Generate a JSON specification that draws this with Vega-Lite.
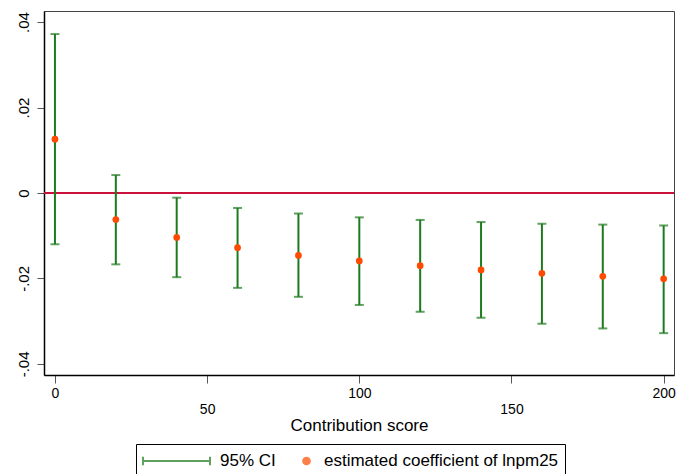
{
  "$schema": "https://vega.github.io/schema/vega-lite/v6.json",
  "width": 630,
  "height": 364,
  "autosize": "none",
  "padding": {"left": 44, "top": 11, "right": 12, "bottom": 99},
  "background": "white",
  "data": {"values": [
    {"x": 0, "b": 0.0126, "lo": -0.0120, "hi": 0.0372},
    {"x": 20, "b": -0.0062, "lo": -0.0167, "hi": 0.0042},
    {"x": 40, "b": -0.0104, "lo": -0.0197, "hi": -0.0011},
    {"x": 60, "b": -0.0128, "lo": -0.0222, "hi": -0.0035},
    {"x": 80, "b": -0.0146, "lo": -0.0243, "hi": -0.0048},
    {"x": 100, "b": -0.0159, "lo": -0.0262, "hi": -0.0057},
    {"x": 120, "b": -0.0170, "lo": -0.0278, "hi": -0.0063},
    {"x": 140, "b": -0.0180, "lo": -0.0292, "hi": -0.0068},
    {"x": 160, "b": -0.0188, "lo": -0.0306, "hi": -0.0072},
    {"x": 180, "b": -0.0195, "lo": -0.0317, "hi": -0.0074},
    {"x": 200, "b": -0.0201, "lo": -0.0328, "hi": -0.0076}
  ]},
  "layer": [
    {
      "mark": {"type": "rule", "color": "#c8123c", "strokeWidth": 1.6},
      "encoding": {
        "y": {"datum": 0, "type": "quantitative", "title": null,
              "scale": {"domain": [-0.0426, 0.0426], "nice": false, "zero": false},
              "axis": {"values": [-0.04, -0.02, 0, 0.02, 0.04],
                       "labelExpr": "datum.value === 0 ? '0' : replace(replace(format(datum.value, '.2f'), '0.', '.'), '\u2212', '-')"}}
      }
    },
    {
      "mark": {"type": "errorbar", "ticks": {"size": 9}, "thickness": 2},
      "encoding": {
        "x": {"field": "x", "type": "quantitative", "title": "Contribution score",
              "scale": {"domain": [-3.6, 203.4], "nice": false, "zero": false},
              "axis": {"values": [0, 50, 100, 150, 200],
                       "labelExpr": "datum.value % 100 === 0 ? datum.label : ['', datum.label]"}},
        "y": {"field": "lo", "type": "quantitative", "title": null},
        "y2": {"field": "hi"},
        "color": {"datum": "95% CI", "type": "nominal",
                  "scale": {"domain": ["95% CI", "estimated coefficient of lnpm25"], "range": ["#1e7a1e", "#ff4a00"]}}
      }
    },
    {
      "mark": {"type": "point", "filled": true, "opacity": 1},
      "encoding": {
        "x": {"field": "x", "type": "quantitative", "title": "Contribution score",
              "axis": {"values": [0, 50, 100, 150, 200],
                       "labelExpr": "datum.value % 100 === 0 ? datum.label : ['', datum.label]"}},
        "y": {"field": "b", "type": "quantitative", "title": null},
        "color": {"datum": "estimated coefficient of lnpm25", "type": "nominal"},
        "shape": {"datum": "estimated coefficient of lnpm25", "type": "nominal",
                  "scale": {"domain": ["95% CI", "estimated coefficient of lnpm25"],
                            "range": ["M-1,-0.13L-1,0.13M-1,0L1,0M1,-0.13L1,0.13", "circle"]}},
        "size": {"datum": "estimated coefficient of lnpm25", "type": "nominal",
                 "scale": {"domain": ["95% CI", "estimated coefficient of lnpm25"], "range": [4489, 45]}}
      }
    }
  ],
  "config": {
    "view": {"stroke": "#444", "strokeWidth": 1},
    "font": "Liberation Sans",
    "axisX": {
      "domain": true, "domainColor": "black", "domainWidth": 1.5,
      "grid": false,
      "tickSize": 8, "tickColor": "#555", "tickWidth": 1,
      "labelFont": "Liberation Sans", "labelFontSize": 14, "labelColor": "black",
      "labelLineHeight": 16,
      "labelPadding": 3, "labelOverlap": false, "labelFlush": false,
      "titleFont": "Liberation Sans", "titleFontSize": 17, "titleFontWeight": "normal", "titleColor": "black",
      "titlePadding": 1
    },
    "axisY": {
      "domain": true, "domainColor": "black", "domainWidth": 1.5,
      "grid": false,
      "tickSize": 7, "tickColor": "#555", "tickWidth": 1,
      "labelFont": "Liberation Sans", "labelFontSize": 15, "labelColor": "black",
      "labelAngle": -90, "labelAlign": "center", "labelBaseline": "bottom",
      "labelPadding": 6, "labelOverlap": false, "labelFlush": false
    },
    "legend": {
      "orient": "none", "legendX": 92, "legendY": 433,
      "direction": "horizontal", "title": null,
      "labelFont": "Liberation Sans", "labelFontSize": 17, "labelColor": "black",
      "labelOffset": 9, "labelLimit": 400,
      "clipHeight": 22, "padding": 6, "columnPadding": 22,
      "strokeColor": "black",
      "symbolStrokeWidth": 2
    }
  }
}
